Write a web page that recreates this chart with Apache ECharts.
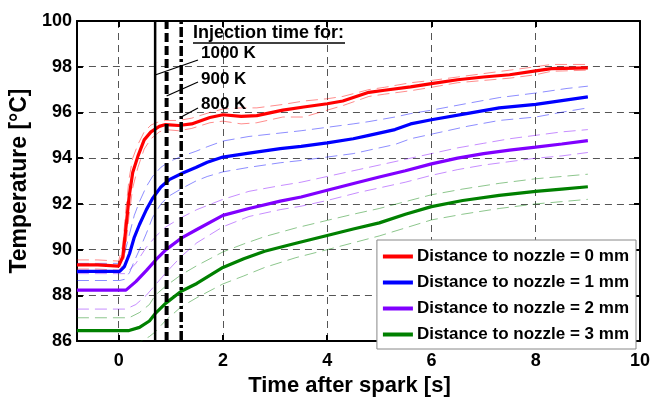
<!DOCTYPE html>
<html>
<head>
<meta charset="utf-8">
<script src="https://cdn.jsdelivr.net/npm/echarts@6/dist/echarts.min.js"></script>
<style>
  html, body { margin: 0; padding: 0; background: #ffffff; }
  #chart { width: 656px; height: 402px; }
</style>
</head>
<body>
<div id="chart"></div>
<script>
// ---- Measured temperatures after the spark, four nozzle distances ----
// Each distance: sample times [s], mean temperature and the upper / lower spread [°C]

const time0mm  = [-0.8, -0.4, 0, 0.08, 0.14, 0.2, 0.27, 0.37, 0.49, 0.62, 0.78, 0.9, 1.15, 1.4, 1.75, 2.0, 2.35, 2.65, 3.15, 3.55, 4.0, 4.3, 4.8, 5.1, 5.6, 6.0, 6.5, 7.0, 7.5, 8.0, 8.3, 9.0];
const temp0mm  = [89.33, 89.33, 89.28, 89.69, 90.96, 92.3, 93.37, 94.09, 94.8, 95.15, 95.39, 95.47, 95.43, 95.5, 95.78, 95.9, 95.83, 95.86, 96.1, 96.24, 96.38, 96.5, 96.88, 96.97, 97.12, 97.26, 97.43, 97.55, 97.65, 97.82, 97.92, 97.95];
const temp0mmUpper = [89.55, 89.55, 89.5, 90.2, 91.8, 93.1, 94.0, 94.6, 95.15, 95.45, 95.6, 95.65, 95.65, 95.75, 96.0, 96.15, 96.2, 96.2, 96.35, 96.5, 96.6, 96.7, 97.0, 97.1, 97.3, 97.4, 97.55, 97.7, 97.85, 98.0, 98.1, 98.1];
const temp0mmLower = [89.15, 89.15, 89.1, 89.3, 90.2, 91.5, 92.7, 93.6, 94.4, 94.85, 95.15, 95.25, 95.2, 95.3, 95.55, 95.62, 95.5, 95.55, 95.8, 95.8, 96.1, 96.3, 96.7, 96.8, 96.95, 97.1, 97.3, 97.4, 97.5, 97.65, 97.8, 97.85];

const time1mm  = [-0.8, 0.02, 0.11, 0.21, 0.3, 0.4, 0.53, 0.65, 0.81, 0.97, 1.23, 1.48, 1.7, 2.0, 2.5, 3.1, 3.5, 4.0, 4.5, 4.8, 5.3, 5.6, 6.0, 6.7, 7.3, 8.0, 8.6, 9.0];
const temp1mm  = [89.05, 89.05, 89.26, 89.83, 90.54, 91.1, 91.74, 92.24, 92.74, 93.06, 93.35, 93.59, 93.82, 94.05, 94.22, 94.42, 94.52, 94.67, 94.85, 95.0, 95.25, 95.5, 95.68, 95.96, 96.2, 96.35, 96.55, 96.68];
const temp1mmUpper = [89.4, 89.4, 89.8, 90.7, 91.5, 92.1, 92.75, 93.2, 93.6, 93.85, 94.1, 94.3, 94.5, 94.75, 94.95, 95.1, 95.2, 95.35, 95.5, 95.6, 95.8, 95.95, 96.1, 96.4, 96.65, 96.85, 97.05, 97.15];
const temp1mmLower = [88.65, 88.65, 88.7, 89.0, 89.5, 90.0, 90.7, 91.4, 92.0, 92.35, 92.7, 93.0, 93.2, 93.4, 93.6, 93.8, 93.9, 94.05, 94.2, 94.35, 94.6, 94.85, 95.05, 95.4, 95.65, 95.8, 96.05, 96.2];

const time2mm  = [-0.8, 0.14, 0.33, 0.53, 0.72, 0.91, 1.2, 1.5, 2.0, 2.5, 3.1, 3.5, 4.0, 4.6, 5.0, 5.5, 6.0, 6.5, 7.0, 7.5, 8.0, 8.5, 9.0];
const temp2mm  = [88.23, 88.23, 88.6, 89.08, 89.57, 90.0, 90.5, 90.88, 91.5, 91.8, 92.12, 92.3, 92.6, 92.95, 93.18, 93.45, 93.75, 94.0, 94.2, 94.35, 94.48, 94.62, 94.77];
const temp2mmUpper = [88.95, 88.95, 89.4, 90.1, 90.6, 91.0, 91.4, 91.75, 92.2, 92.55, 92.8, 92.95, 93.2, 93.5, 93.7, 93.95, 94.2, 94.45, 94.65, 94.85, 95.0, 95.15, 95.25];
const temp2mmLower = [87.4, 87.4, 87.6, 88.0, 88.5, 89.0, 89.7, 90.3, 91.0, 91.45, 91.75, 91.9, 92.15, 92.5, 92.7, 92.95, 93.25, 93.5, 93.7, 93.85, 94.0, 94.1, 94.25];

const time3mm  = [-0.8, 0.2, 0.4, 0.59, 0.7, 0.9, 1.2, 1.5, 2.0, 2.4, 2.8, 3.4, 4.0, 4.5, 5.0, 5.5, 6.0, 6.6, 7.3, 8.0, 8.5, 9.0];
const temp3mm  = [86.46, 86.46, 86.6, 86.88, 87.2, 87.65, 88.18, 88.52, 89.22, 89.6, 89.93, 90.28, 90.62, 90.9, 91.17, 91.55, 91.88, 92.15, 92.37, 92.55, 92.65, 92.75];
const temp3mmUpper = [87.02, 87.02, 87.25, 87.6, 88.0, 88.4, 88.9, 89.3, 89.9, 90.25, 90.57, 90.95, 91.28, 91.55, 91.8, 92.1, 92.4, 92.65, 92.9, 93.1, 93.2, 93.3];
const temp3mmLower = [85.9, 85.9, 85.95, 86.2, 86.4, 86.9, 87.5, 87.9, 88.5, 88.85, 89.22, 89.65, 90.0, 90.3, 90.6, 90.95, 91.3, 91.55, 91.8, 92.0, 92.1, 92.2];

// Injection instants for the three ambient temperatures [s]
const injectionTimes  = [0.7, 0.92, 1.2];
const injectionLabels = ['1000 K', '900 K', '800 K'];

const seriesNames = [
  'Distance to nozzle = 0 mm',
  'Distance to nozzle = 1 mm',
  'Distance to nozzle = 2 mm',
  'Distance to nozzle = 3 mm'
];
const yTicks = [86, 88, 90, 92, 94, 96, 98, 100];
const xRange = [-0.8, 10];

// ---- Chart ----
const FONT = '"Liberation Sans", Arial, sans-serif';
const chart = echarts.init(document.getElementById('chart'), null, { renderer: 'canvas' });

function pairs(ts, vs) { return ts.map((t, i) => [t, vs[i]]); }

const groups = [
  { name: seriesNames[0], color: '#ff0000', t: time0mm, mid: temp0mm, hi: temp0mmUpper, lo: temp0mmLower },
  { name: seriesNames[1], color: '#0000ff', t: time1mm, mid: temp1mm, hi: temp1mmUpper, lo: temp1mmLower },
  { name: seriesNames[2], color: '#8000ff', t: time2mm, mid: temp2mm, hi: temp2mmUpper, lo: temp2mmLower },
  { name: seriesNames[3], color: '#008000', t: time3mm, mid: temp3mm, hi: temp3mmUpper, lo: temp3mmLower }
];

const yMin = yTicks[0], yMax = yTicks[yTicks.length - 1];
const series = [];

// thin dashed spread lines
groups.forEach(g => {
  [g.hi, g.lo].forEach(band => {
    series.push({
      type: 'line', data: pairs(g.t, band), symbol: 'none', silent: true, z: 2,
      lineStyle: { color: g.color, width: 1, opacity: 0.45, type: [12, 6] }
    });
  });
});

// mean curves
groups.forEach(g => {
  series.push({
    name: g.name, type: 'line', data: pairs(g.t, g.mid), symbol: 'none', z: 3,
    lineStyle: { color: g.color, width: 3.2 },
    itemStyle: { color: g.color }
  });
});

// injection markers
const injWidths = [2.5, 4, 3.5];
const injTypes = ['solid', [9, 4], [10, 3, 3, 3]];
injectionTimes.forEach((t, i) => {
  series.push({
    type: 'line', data: [[t, yMin], [t, yMax]], symbol: 'none', silent: true, z: 5,
    lineStyle: { color: '#000', width: injWidths[i], type: injTypes[i] }
  });
});

const gridDash = { color: '#555', width: 1, type: [7, 5] };
const tickLabel = { fontFamily: FONT, fontWeight: 'bold', fontSize: 18, color: '#000' };
const frameLine = { onZero: false, show: true, lineStyle: { color: '#000', width: 2 } };
const inTicks = { show: true, inside: true, length: 6, lineStyle: { color: '#000', width: 2 } };

chart.setOption({
  animation: false,
  backgroundColor: '#fff',
  grid: { left: 76, right: 16, top: 21, bottom: 52 },
  xAxis: [
    {
      type: 'value', min: xRange[0], max: xRange[1], splitNumber: 5,
      name: 'Time after spark [s]', nameLocation: 'middle', nameGap: 28,
      nameTextStyle: { fontFamily: FONT, fontWeight: 'bold', fontSize: 22, color: '#000', padding: [0, 18, 0, 0] },
      axisLine: frameLine,
      axisTick: inTicks,
      axisLabel: Object.assign({ margin: 11, showMinLabel: false }, tickLabel),
      splitLine: { show: true, lineStyle: gridDash }
    },
    {
      type: 'value', position: 'top', min: xRange[0], max: xRange[1], splitNumber: 5,
      axisLine: frameLine,
      axisTick: inTicks,
      axisLabel: { show: false }, splitLine: { show: false }
    }
  ],
  yAxis: [
    {
      type: 'value', min: yMin, max: yMax, interval: 2,
      name: 'Temperature [°C]', nameLocation: 'middle', nameGap: 34,
      nameTextStyle: { fontFamily: FONT, fontWeight: 'bold', fontSize: 23, color: '#000' },
      axisLine: frameLine,
      axisTick: inTicks,
      axisLabel: Object.assign({ margin: 5 }, tickLabel),
      splitLine: { show: true, lineStyle: gridDash }
    },
    {
      type: 'value', position: 'right', min: yMin, max: yMax, interval: 2,
      axisLine: frameLine,
      axisTick: inTicks,
      axisLabel: { show: false }, splitLine: { show: false }
    }
  ],
  legend: {
    data: seriesNames,
    orient: 'vertical',
    right: 20, bottom: 53,
    backgroundColor: '#fff',
    borderColor: '#888', borderWidth: 1, borderRadius: 0,
    padding: [8, 7, 6, 6],
    itemGap: 9,
    itemWidth: 30, itemHeight: 4,
    icon: 'rect',
    textStyle: { fontFamily: FONT, fontWeight: 'bold', fontSize: 17, color: '#000', padding: [0, 0, 0, -1] },
    z: 10
  },
  series: series
});

// ---- Injection annotation: heading, labels and pointers to each marker ----
const pointerY = [75, 96, 117];      // where each pointer meets its marker line
const pointerEndY = [60, 82, 108];   // pointer ends next to the labels
const labelY = [53, 79, 104];
const labelX = 201;
const graphics = [
  {
    type: 'text', z: 20,
    style: { x: 193, y: 33, text: 'Injection time for:', font: 'bold 18px ' + FONT, fill: '#000', verticalAlign: 'middle', align: 'left' }
  },
  { type: 'line', z: 20, shape: { x1: 193, y1: 43, x2: 345, y2: 43 }, style: { stroke: '#000', lineWidth: 1.5 } }
];
injectionTimes.forEach((t, i) => {
  const px = chart.convertToPixel({ xAxisIndex: 0 }, t);
  graphics.push({
    type: 'line', z: 20,
    shape: { x1: px, y1: pointerY[i], x2: labelX - 3, y2: pointerEndY[i] },
    style: { stroke: '#000', lineWidth: 1.3 }
  });
  graphics.push({
    type: 'text', z: 20,
    style: { x: labelX, y: labelY[i], text: injectionLabels[i], font: 'bold 17px ' + FONT, fill: '#000', verticalAlign: 'middle', align: 'left' }
  });
});
chart.setOption({ graphic: graphics });
</script>
</body>
</html>
